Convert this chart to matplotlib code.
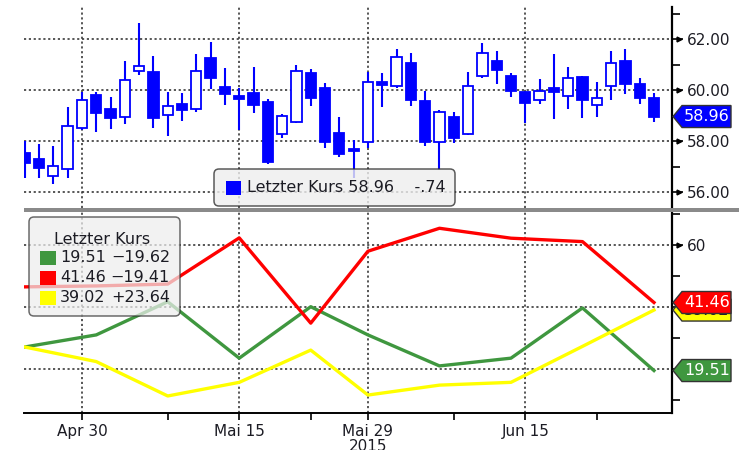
#!/usr/bin/env python3
import matplotlib
matplotlib.use('Agg')
import matplotlib.pyplot as plt
from matplotlib.patches import Rectangle, FancyBboxPatch, Polygon
from matplotlib.transforms import IdentityTransform

W, H = 739, 450

# daily candles, trading days Apr 24 - Jun 26 2015
opens = [57.53, 57.29, 56.63, 56.90, 58.52, 59.80, 59.27, 58.94, 60.75, 60.69,
         59.02, 59.44, 59.24, 61.24, 60.13, 59.76, 59.87, 59.54, 58.27, 58.76,
         60.65, 60.07, 58.30, 57.68, 57.95, 60.30, 60.17, 61.05, 59.57, 57.97,
         58.95, 58.26, 60.56, 61.15, 60.56, 59.93, 59.61, 60.07, 59.76, 60.52,
         59.41, 60.17, 61.15, 60.22, 59.70]
highs = [58.00, 57.87, 57.82, 59.35, 59.91, 59.91, 59.74, 61.15, 62.62, 61.35,
         59.91, 59.87, 61.40, 61.90, 60.85, 60.09, 60.91, 59.65, 59.06, 60.98,
         60.82, 60.26, 58.95, 58.04, 60.69, 60.65, 61.61, 61.44, 59.96, 59.22,
         59.13, 60.69, 61.83, 61.53, 60.65, 59.93, 60.42, 61.40, 60.89, 60.55,
         60.30, 61.53, 61.60, 60.46, 59.87]
lows = [56.55, 56.54, 56.30, 56.56, 58.43, 58.34, 58.47, 58.67, 60.59, 58.52,
        58.21, 58.78, 59.15, 60.04, 59.41, 58.43, 59.09, 57.09, 58.13, 58.69,
        59.38, 57.74, 57.38, 56.54, 57.71, 59.35, 60.09, 59.38, 57.82, 56.86,
        57.91, 58.24, 60.48, 60.22, 59.74, 58.69, 59.44, 58.85, 59.24, 58.91,
        58.95, 59.61, 59.83, 59.44, 58.76]
closes = [57.14, 56.96, 57.02, 58.59, 59.61, 59.11, 58.91, 60.39, 60.94, 58.91,
          59.37, 59.22, 60.75, 60.48, 59.84, 59.66, 59.41, 57.19, 58.99, 60.75,
          59.70, 57.97, 57.48, 57.62, 60.30, 60.20, 61.28, 59.61, 57.97, 59.13,
          58.13, 60.17, 61.44, 60.78, 59.96, 59.50, 59.96, 59.91, 60.46, 59.61,
          59.67, 61.05, 60.24, 59.70, 58.96]

date_ticks = [4, 15, 24, 35]
date_labels = ['Apr 30', 'Mai 15', 'Mai 29', 'Jun 15']
minor_date_ticks = [10, 20, 30, 40]
year_label = '2015'

price_ticks = [56, 58, 60, 62]
price_labels = ['56.00', '58.00', '60.00', '62.00']
price_minor = [57, 59, 61, 63]

# weekly closes (lower panel)
week_idx = [0, 5, 10, 15, 20, 24, 29, 34, 39, 44]
green_vals = [27.1, 31.0, 41.7, 23.5, 40.1, 31.0, 21.0, 23.5, 39.7, 19.51]
red_vals = [46.5, 46.8, 47.4, 62.3, 34.8, 58.0, 65.4, 62.2, 61.1, 41.46]
yellow_vals = [27.1, 22.4, 11.3, 15.7, 26.1, 11.6, 14.8, 15.7, 27.3, 39.02]

low_ticks = [20, 40, 60]
low_labels = ['', '', '60']
low_minor = [10, 30, 50, 70]

box_title = 'Letzter Kurs'
last_price = '58.96'
price_change = '-.74'
series_last = ['19.51', '41.46', '39.02']
series_chg = ['\u221219.62', '\u221219.41', '+23.64']

BLUE = '#0000ff'
GREEN = '#3f973f'
RED = '#ff0000'
YELLOW = '#ffff00'
TXT = '#1c1c24'
GRID = dict(color='#3a3a3a', lw=1.2, linestyle=(0, (1.3, 1.6)))

plt.rcParams['font.family'] = ['DejaVu Sans']

fig = plt.figure(figsize=(W / 100, H / 100), dpi=100)


def fx(x):
    return x / W


def fy(y):
    return 1 - y / H


def P(x, y):
    return (x, H - y)


ax1 = fig.add_axes([fx(24), fy(208), fx(672) - fx(24), fy(7) - fy(208)])
ax2 = fig.add_axes([fx(24), fy(413), fx(672) - fx(24), fy(212) - fy(413)])

for ax in (ax1, ax2):
    ax.set_xlim(-0.05, 45.26)
    for s in ('left', 'top'):
        ax.spines[s].set_visible(False)
    ax.spines['right'].set_linewidth(1.6)
    ax.yaxis.tick_right()
    ax.set_xticks(date_ticks)
    ax.grid(True, which='major', **GRID)
    ax.set_axisbelow(True)

# upper panel: candles
ax1.set_ylim(55.373, 63.255)
ax1.spines['bottom'].set_visible(False)
ax1.set_xticklabels([])
ax1.tick_params(axis='x', length=0)
ax1.set_yticks(price_ticks)
ax1.set_yticklabels(price_labels)
ax1.set_yticks(price_minor, minor=True)
ax1.tick_params(axis='y', which='major', length=8, width=1.2, pad=3,
                labelsize=11, labelcolor=TXT)
ax1.tick_params(axis='y', which='minor', length=6, width=1.2)

for i in range(len(opens)):
    o, h, l, c = opens[i], highs[i], lows[i], closes[i]
    ax1.vlines(i, l, h, color=BLUE, lw=1.5, zorder=3)
    lo_b, hi_b = min(o, c), max(o, c)
    face = 'white' if c > o else BLUE
    ax1.add_patch(Rectangle((i - 0.36, lo_b), 0.72, max(hi_b - lo_b, 0.04),
                            facecolor=face, edgecolor=BLUE, lw=1.3, zorder=4))

# lower panel: lines
ax2.set_ylim(5.81, 70.65)
ax2.spines['bottom'].set_linewidth(1.4)
ax2.set_xticklabels(date_labels)
ax2.set_xticks(minor_date_ticks, minor=True)
ax2.tick_params(axis='x', which='both', length=5, width=1.2, pad=3,
                labelsize=11, labelcolor=TXT)
ax2.set_yticks(low_ticks)
ax2.set_yticklabels(low_labels)
ax2.set_yticks(low_minor, minor=True)
ax2.tick_params(axis='y', which='major', length=8, width=1.2, pad=3,
                labelsize=11, labelcolor=TXT)
ax2.tick_params(axis='y', which='minor', length=6, width=1.2)

ax2.plot(week_idx, green_vals, color=GREEN, lw=2.4, zorder=3)
ax2.plot(week_idx, red_vals, color=RED, lw=2.4, zorder=3)
ax2.plot(week_idx, yellow_vals, color=YELLOW, lw=2.4, zorder=3)

# arrow heads on the major ticks
for ax, ticks in ((ax1, price_ticks), (ax2, low_ticks)):
    ax.plot([1.011] * len(ticks), ticks, linestyle='none', marker='>', ms=3.5,
            color='k', transform=ax.get_yaxis_transform(), clip_on=False)

fig.text(368 / W, fy(439), year_label, ha='center', va='top', fontsize=11,
         color=TXT)

# gray separator
fig.add_artist(Rectangle(P(24, 211.5), 739 - 24, 4, facecolor='#8a8a8a',
                         edgecolor='none', transform=IdentityTransform()))

# top info box
fig.add_artist(FancyBboxPatch(P(214, 206), 241, 37,
                              boxstyle='round,pad=0,rounding_size=5',
                              facecolor='#eeeeee', edgecolor='#333333',
                              lw=1.1, alpha=0.8, transform=IdentityTransform()))
fig.add_artist(Rectangle(P(226, 195), 15, 14, facecolor=BLUE,
                         edgecolor='none', transform=IdentityTransform()))
fig.text(*P(247, 188), box_title + ' ' + last_price + '    ' + price_change,
         ha='left', va='center', fontsize=11.5, color=TXT,
         transform=IdentityTransform())

# lower legend
fig.add_artist(FancyBboxPatch(P(29, 316), 151, 99,
                              boxstyle='round,pad=0,rounding_size=5',
                              facecolor='#eeeeee', edgecolor='#333333',
                              lw=1.1, alpha=0.72, transform=IdentityTransform()))
fig.text(*P(54, 239), box_title, ha='left', va='center', fontsize=11.5,
         color=TXT, transform=IdentityTransform())
for k, col in enumerate([GREEN, RED, YELLOW]):
    yc = 258 + 20 * k
    fig.add_artist(Rectangle(P(40, yc + 7), 16, 14, facecolor=col,
                             edgecolor='none', transform=IdentityTransform()))
    fig.text(*P(60, yc), series_last[k], ha='left', va='center',
             fontsize=11.5, color=TXT, transform=IdentityTransform())
    fig.text(*P(170, yc), series_chg[k], ha='right', va='center',
             fontsize=11.5, color=TXT, transform=IdentityTransform())


def tag(ax, val, text, fc, tc, z):
    yd = ax.transData.transform((0, val))[1]
    y = H - yd
    pts = [P(673, y), P(682, y - 11), P(731, y - 11), P(731, y + 11),
           P(682, y + 11)]
    fig.add_artist(Polygon(pts, closed=True, facecolor=fc, edgecolor='#333333',
                           lw=1.0, transform=IdentityTransform(), zorder=z))
    fig.text(*P(707, y), text, ha='center', va='center', fontsize=11.5,
             color=tc, transform=IdentityTransform(), zorder=z + 0.5)


tag(ax1, closes[-1], last_price, BLUE, 'white', 10)
tag(ax2, yellow_vals[-1], series_last[2], YELLOW, TXT, 10)
tag(ax2, red_vals[-1], series_last[1], RED, 'white', 11)
tag(ax2, green_vals[-1], series_last[0], GREEN, 'white', 10)

fig.savefig('out.png', dpi=100)
